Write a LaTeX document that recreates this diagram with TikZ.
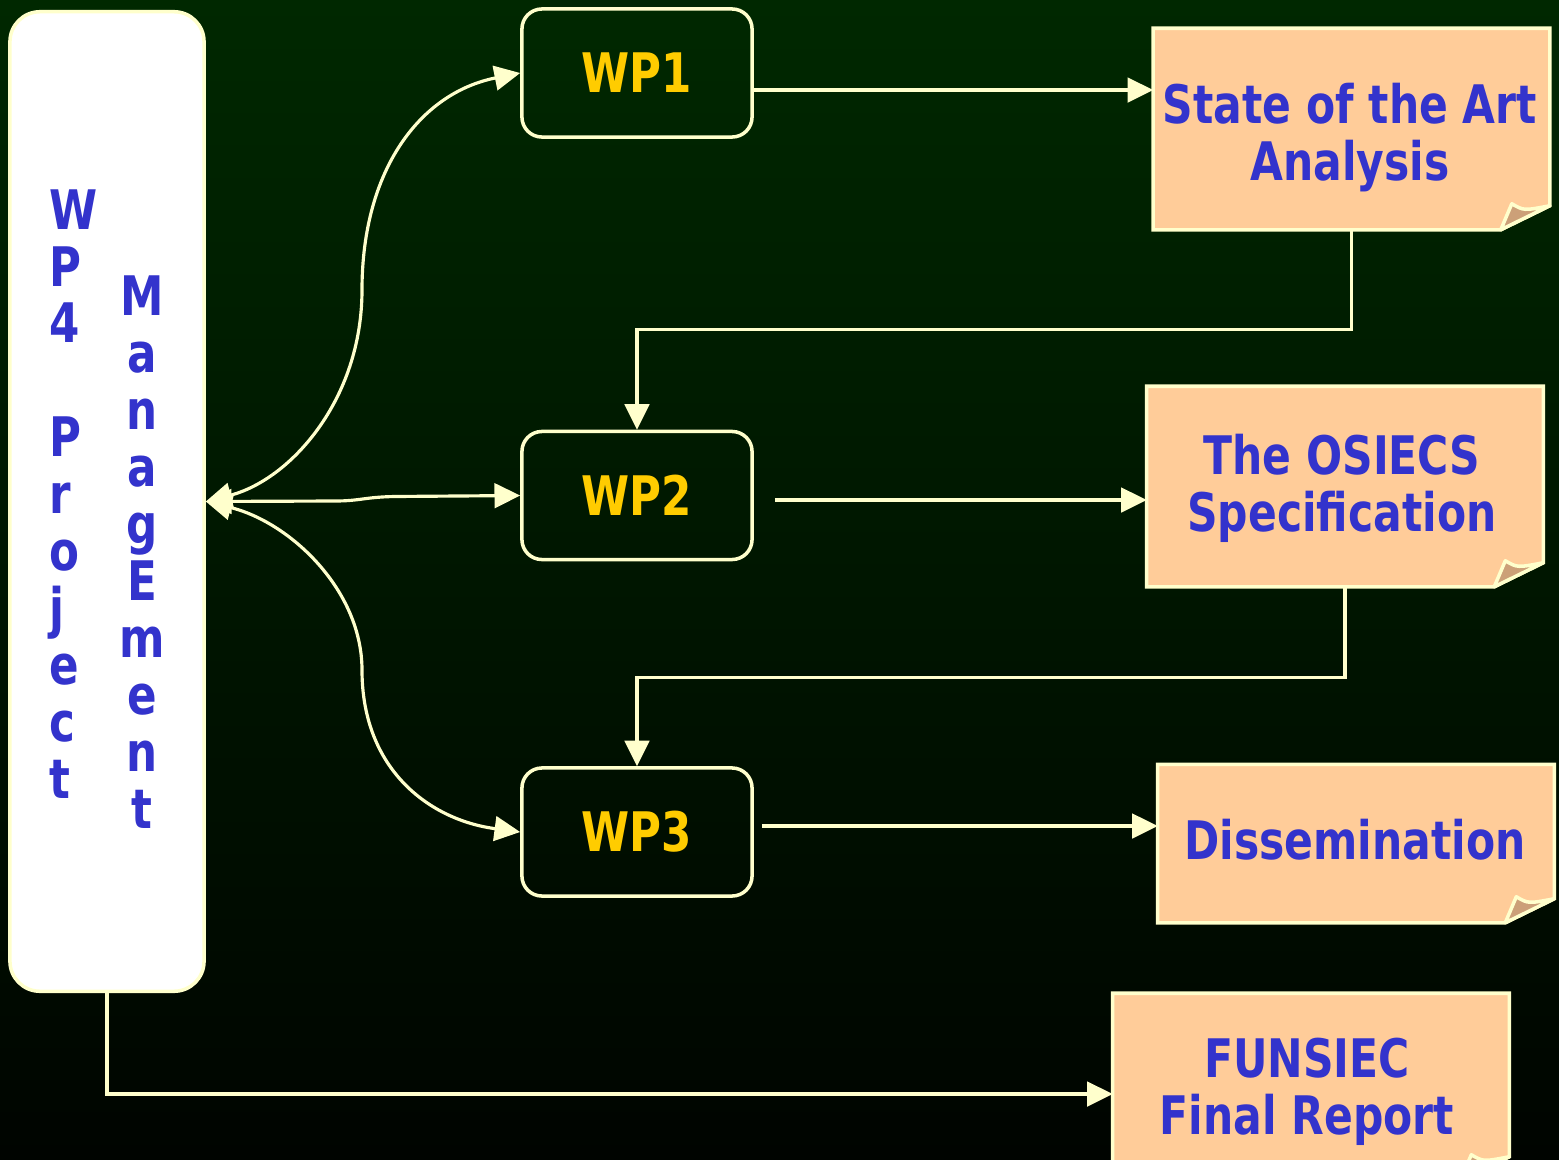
\documentclass[tikz,border=0pt]{standalone}
\usepackage{fontspec}
\usetikzlibrary{arrows.meta}
\newfontfamily\tah{DejaVu Sans}[FakeStretch=0.8]

\definecolor{cream}{RGB}{255,255,204}
\definecolor{wpyellow}{RGB}{255,204,0}
\definecolor{notetext}{RGB}{51,51,204}
\definecolor{peach}{RGB}{255,204,153}
\definecolor{curltan}{RGB}{204,160,120}
\definecolor{bgtop}{RGB}{0,40,0}
\definecolor{bgbot}{RGB}{0,4,0}

\pgfdeclarelayer{bg}
\pgfdeclarelayer{paper}
\pgfsetlayers{bg,paper,main}

\begin{document}
\begin{tikzpicture}[x=0.01cm,y=-0.01cm,
  txt/.style={font=\tah\bfseries\fontsize{15.5pt}{16.2pt}\selectfont},
  mgmt/.style={fill=white, draw=cream, line width=1pt, rounded corners=0.3cm,
    minimum width=1.94cm, minimum height=9.79cm, inner sep=0pt},
  vtext/.style={txt, text=notetext, inner sep=0pt},
  wpbox/.style={txt, draw=cream, line width=1pt, rounded corners=0.2cm,
    minimum width=2.3cm, minimum height=1.28cm, inner sep=0pt, text=wpyellow},
  sheet/.style={minimum width=3.95cm, inner sep=0pt},
  note/.style={font=\tah\bfseries\fontsize{15.1pt}{16.2pt}\selectfont,
    inner sep=0pt, align=center, text=notetext},
  notepaper/.style={fill=peach, draw=cream, line width=1pt, line join=miter},
  curl/.style={fill=curltan, draw=cream, line width=1pt, line join=round},
  tip/.tip={Triangle[length=7.3pt,width=7pt]},
  link/.style={draw=cream, line width=0.9pt, -tip},
  twoway/.style={draw=cream, line width=0.9pt, tip-tip},
]
\useasboundingbox (0,0) rectangle (1559,1160);

\begin{pgfonlayer}{bg}
  \shade[top color=bgtop, bottom color=bgbot] (0,0) rectangle (1559,1160);
\end{pgfonlayer}

% management column
\node[mgmt] (lb) at (107,501.5) {};
\node[vtext, align=left, anchor=west] (c1) at (49,494)
  {W\\P\\4\\\mbox{}\\P\\r\\o\\j\\e\\c\\t};
\node[vtext, align=center] (c2) at (142,552)
  {M\\a\\n\\a\\g\\E\\m\\e\\n\\t};

% work packages
\node[wpbox] (w1) at (637,73) {WP1};
\node[wpbox] (w2) at (637,495.5) {WP2};
\node[wpbox] (w3) at (637,832) {WP3};

% deliverable sheets
\node[sheet, minimum height=2cm] (s1) at (1351.5,129) {};
\node[sheet, minimum height=1.99cm] (s2) at (1345,486.5) {};
\node[sheet, minimum height=1.57cm] (s3) at (1356,843.5) {};
\node[sheet, minimum height=1.86cm] (s4) at (1311,1087) {};

% sheets with a curled corner
\begin{pgfonlayer}{paper}
  \foreach \n in {s1,s2,s3,s4}{
    \filldraw[notepaper] (\n.north west) -- (\n.north east)
      -- ([yshift=0.24cm]\n.south east) -- ([xshift=-0.49cm]\n.south east)
      -- (\n.south west) -- cycle;
    \filldraw[curl] ([xshift=-0.49cm]\n.south east)
      -- ([xshift=-0.38cm,yshift=0.26cm]\n.south east)
      .. controls ([xshift=-0.26cm,yshift=0.19cm]\n.south east) .. ([yshift=0.24cm]\n.south east)
      -- cycle;
  }
\end{pgfonlayer}

% deliverable titles
\node[note] (t1) at (1350,138) {State of the Art\\Analysis};
\node[note] (t2) at (1342,488) {The OSIECS\\Specification};
\node[note] (t3) at (1355,840) {Dissemination};
\node[note] (t4) at (1307,1092) {FUNSIEC\\Final Report};

% work package to deliverable
\coordinate (a1) at ([yshift=-0.17cm]w1.east);
\draw[link] (a1) -- (a1 -| s1.west);
\coordinate (a2) at ([yshift=-0.045cm]w2.east);
\draw[link, shorten <=0.21cm] (a2) -- (a2 -| s2.west);
\coordinate (a3) at ([yshift=0.06cm]w3.east);
\draw[link, shorten <=0.08cm] (a3) -- (a3 -| s3.west);

% deliverable feeds the next work package
\draw[link] (s1.south) -- ++(0,100) -| (w2.north);
\draw[link] (s2.south) -- ++(0,91) -| (w3.north);

% management to final report
\coordinate (a4) at ([yshift=-0.07cm]s4.west);
\draw[link] (lb.south) |- (a4);

% management links to the work packages
\draw[twoway] (lb.east) .. controls (290,480) and (362,400) .. (362,290)
  .. controls (362,170) and (420,93) .. (w1.west);
\draw[twoway] (lb.east) -- (335,501) .. controls (360,501) and (365,497) .. (395,496.5)
  -- (w2.west);
\draw[twoway] (lb.east) .. controls (290,522) and (362,590) .. (362,670)
  .. controls (362,770) and (430,820) .. (w3.west);
\end{tikzpicture}
\end{document}
